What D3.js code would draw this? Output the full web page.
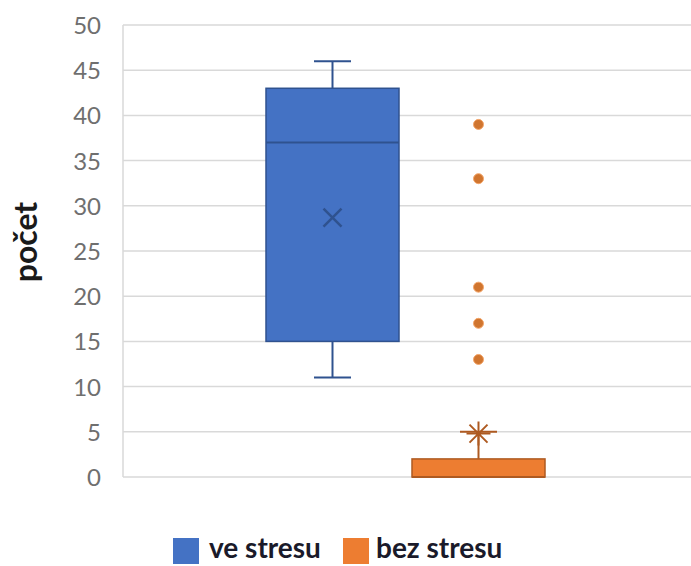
<!DOCTYPE html>
<html>
<head>
<meta charset="utf-8">
<script src="https://cdn.jsdelivr.net/npm/d3@7"></script>
<style>
  html, body { margin: 0; padding: 0; background: #fff; }
  svg { display: block; }
</style>
</head>
<body>
<svg id="chart" width="691" height="566"></svg>
<script>
// Groups and their five-number summaries (počet)
const groups = ["ve stresu", "bez stresu"];
const colors = ["#4472C4", "#ED7D31"];
const strokes = ["#2F528F", "#AE5A21"];
const whiskerLow = [11, 0];
const q1 = [15, 0];
const median = [37, 0];
const q3 = [43, 2];
const whiskerHigh = [46, 5];
const means = [28.7, 4.8];
const outliers = [[], [39, 33, 21, 17, 13]];
const yTicks = [0, 5, 10, 15, 20, 25, 30, 35, 40, 45, 50];

const svg = d3.select("#chart");
const W = 691;
const plotLeft = 123;

const y = d3.scaleLinear().domain([0, 50]).range([477, 25]);
const x = d3.scaleBand().domain(groups).range([266, 545]).paddingInner(0.089).paddingOuter(0);

// horizontal gridlines
svg.append("g")
  .selectAll("line")
  .data(yTicks)
  .join("line")
  .attr("x1", plotLeft).attr("x2", W)
  .attr("y1", d => y(d)).attr("y2", d => y(d))
  .attr("stroke", "#d9d9d9").attr("stroke-width", 1.5);

// left axis line
svg.append("line")
  .attr("x1", plotLeft).attr("x2", plotLeft)
  .attr("y1", y(50)).attr("y2", y(0))
  .attr("stroke", "#d9d9d9").attr("stroke-width", 1.5);

// y tick labels
const yAxis = d3.axisLeft(y).tickValues(yTicks).tickSize(0).tickPadding(0);
const ga = svg.append("g").attr("transform", `translate(101,0)`).call(yAxis);
ga.select(".domain").remove();
ga.selectAll("text")
  .attr("font-family", "Lato, 'Open Sans', sans-serif")
  .attr("font-size", 24)
  .attr("fill", "#6f6f6f")
  .attr("dy", "0.35em");

// y axis title
svg.append("text")
  .attr("transform", `translate(37,242) rotate(-90)`)
  .attr("text-anchor", "middle")
  .attr("font-family", "Lato, 'Open Sans', sans-serif")
  .attr("font-weight", "bold")
  .attr("font-size", 32)
  .attr("fill", "#1a1a1a")
  .text("počet");

// box plots
groups.forEach((g, i) => {
  const gx = x(g), bw = x.bandwidth(), cx = gx + bw / 2;
  const capW = 37;
  const grp = svg.append("g");
  // whiskers
  grp.append("line").attr("x1", cx).attr("x2", cx)
    .attr("y1", y(q3[i])).attr("y2", y(whiskerHigh[i]))
    .attr("stroke", strokes[i]).attr("stroke-width", 2);
  grp.append("line").attr("x1", cx).attr("x2", cx)
    .attr("y1", y(q1[i])).attr("y2", y(whiskerLow[i]))
    .attr("stroke", strokes[i]).attr("stroke-width", 2);
  if (whiskerHigh[i] > q3[i]) {
    grp.append("line").attr("x1", cx - capW / 2).attr("x2", cx + capW / 2)
      .attr("y1", y(whiskerHigh[i])).attr("y2", y(whiskerHigh[i]))
      .attr("stroke", strokes[i]).attr("stroke-width", 2);
  }
  if (whiskerLow[i] < q1[i]) {
    grp.append("line").attr("x1", cx - capW / 2).attr("x2", cx + capW / 2)
      .attr("y1", y(whiskerLow[i])).attr("y2", y(whiskerLow[i]))
      .attr("stroke", strokes[i]).attr("stroke-width", 2);
  }
  // box
  grp.append("rect")
    .attr("x", gx).attr("width", bw)
    .attr("y", y(q3[i])).attr("height", y(q1[i]) - y(q3[i]))
    .attr("fill", colors[i]).attr("stroke", strokes[i]).attr("stroke-width", 1.5);
  // median
  grp.append("line").attr("x1", gx).attr("x2", gx + bw)
    .attr("y1", y(median[i])).attr("y2", y(median[i]))
    .attr("stroke", strokes[i]).attr("stroke-width", 2);
  // mean marker
  const my = y(means[i]);
  if (i === 0) {
    const s = 9;
    grp.append("path")
      .attr("d", `M${cx - s},${my - s}L${cx + s},${my + s}M${cx - s},${my + s}L${cx + s},${my - s}`)
      .attr("stroke", strokes[i]).attr("stroke-width", 2.5).attr("fill", "none");
  } else {
    const s = 12, d = 9;
    grp.append("path")
      .attr("d", `M${cx - s},${my}L${cx + s},${my}M${cx},${my - s}L${cx},${my + s}` +
                 `M${cx - d},${my - d}L${cx + d},${my + d}M${cx - d},${my + d}L${cx + d},${my - d}`)
      .attr("stroke", strokes[i]).attr("stroke-width", 2).attr("fill", "none");
  }
  // outliers
  grp.selectAll("circle.out")
    .data(outliers[i])
    .join("circle")
    .attr("class", "out")
    .attr("cx", cx).attr("cy", d => y(d)).attr("r", 5)
    .attr("fill", "#D0752F").attr("stroke", "#F4A66A").attr("stroke-width", 1);
});

// legend
const legend = svg.append("g");
const items = [
  { label: groups[0], color: colors[0], x: 173, tx: 209 },
  { label: groups[1], color: colors[1], x: 343, tx: 376 }
];
items.forEach(it => {
  legend.append("rect").attr("x", it.x).attr("y", 538).attr("width", 26).attr("height", 26)
    .attr("fill", it.color);
  legend.append("text").attr("x", it.tx).attr("y", 558)
    .attr("font-family", "Lato, 'Open Sans', sans-serif")
    .attr("font-weight", "bold").attr("font-size", 28)
    .attr("fill", "#1a1a2a")
    .text(it.label);
});
</script>
</body>
</html>
